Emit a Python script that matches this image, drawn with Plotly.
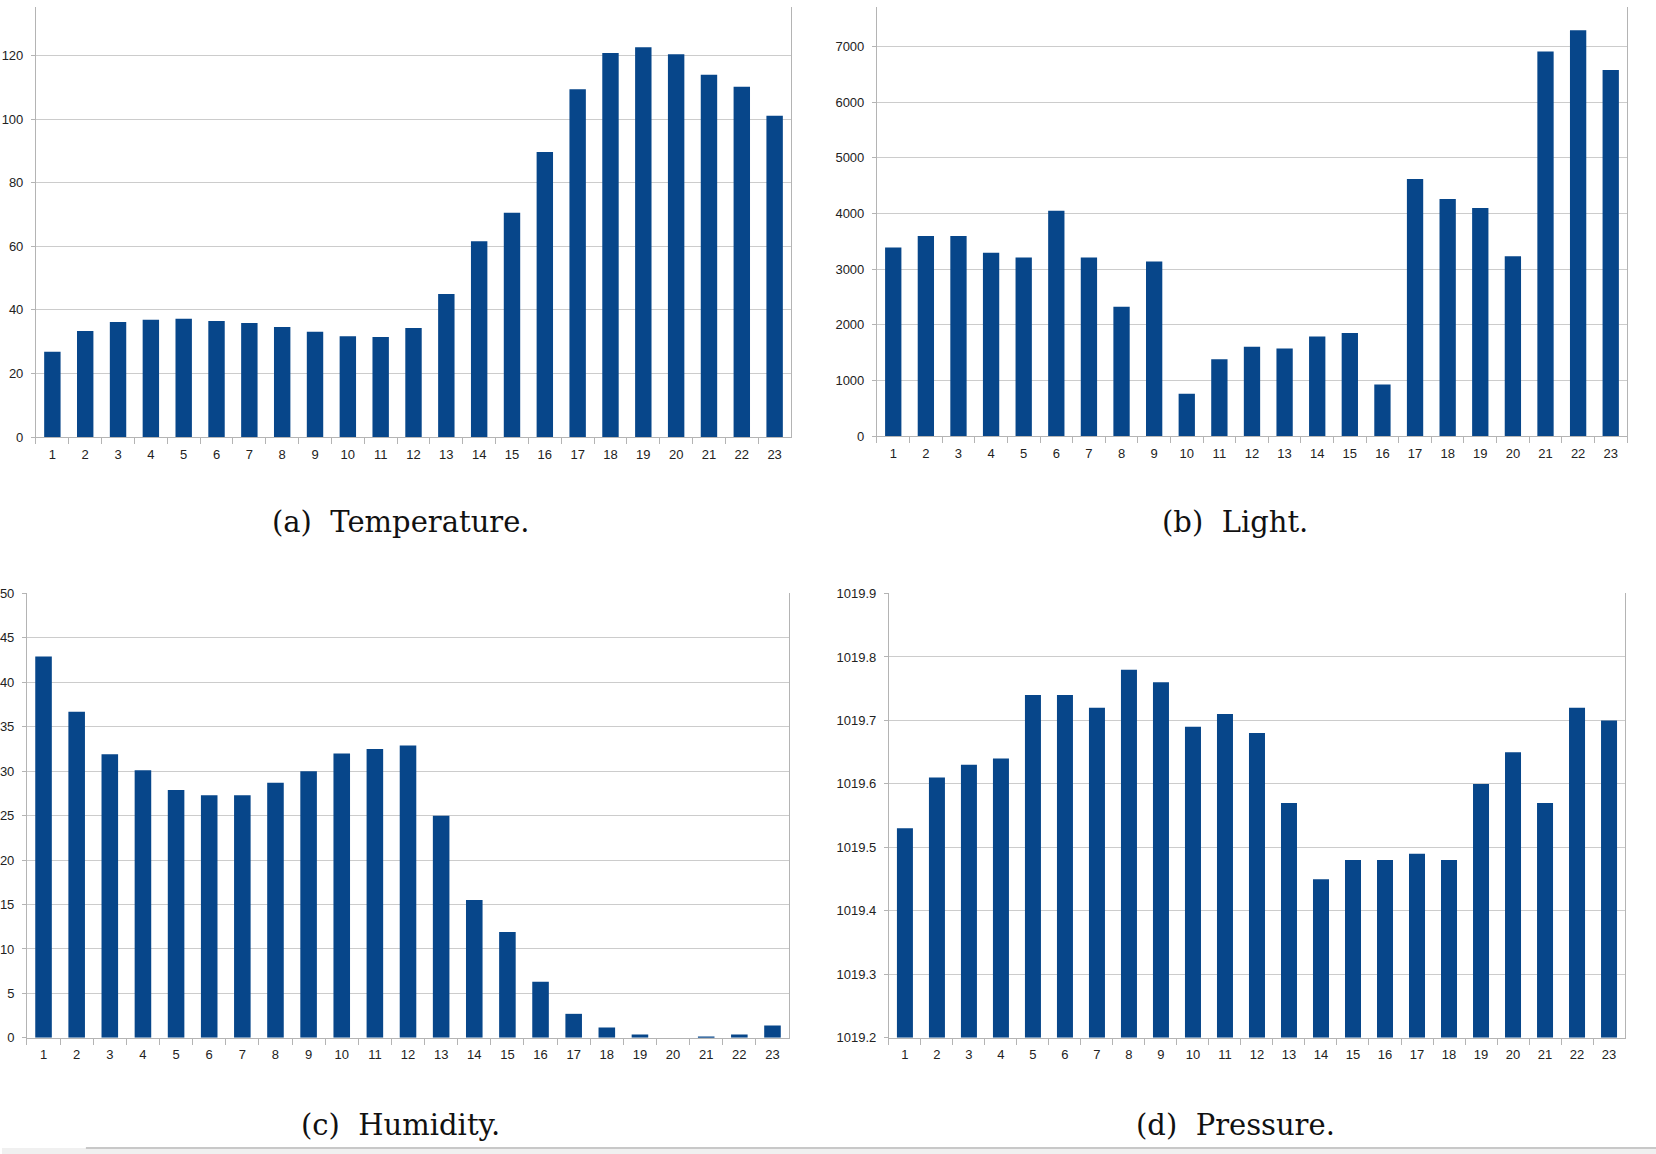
import plotly.graph_objects as go

hours = [str(i) for i in range(1, 24)]

temperature = [26.8, 33.4, 36.2, 36.9, 37.2, 36.5, 35.9, 34.6, 33.1, 31.7, 31.5, 34.3,
               45.0, 61.6, 70.6, 89.7, 109.4, 120.8, 122.6, 120.4, 114.0, 110.2, 101.1]
light = [3390, 3595, 3595, 3295, 3210, 4050, 3210, 2325, 3135, 760, 1380, 1605,
         1575, 1790, 1850, 925, 4620, 4260, 4100, 3230, 6910, 7290, 6580]
humidity = [42.9, 36.7, 31.9, 30.1, 27.9, 27.3, 27.3, 28.7, 30.0, 32.0, 32.5, 32.9,
            25.0, 15.5, 11.9, 6.3, 2.7, 1.15, 0.38, 0.0, 0.15, 0.38, 1.39]
pressure = [1019.53, 1019.61, 1019.63, 1019.64, 1019.74, 1019.74, 1019.72, 1019.78,
            1019.76, 1019.69, 1019.71, 1019.68, 1019.57, 1019.45, 1019.48, 1019.48,
            1019.49, 1019.48, 1019.60, 1019.65, 1019.57, 1019.72, 1019.70]

captions = ["(a)  Temperature.", "(b)  Light.", "(c)  Humidity.", "(d)  Pressure."]

W, H = 1656, 1162
BAR = "#07468a"
TICKFONT = dict(family="Liberation Sans, Arial, sans-serif", size=13, color="#222222")

# target screen positions are mapped to page pixels (the photo is offset/squeezed vertically)
def page_y(sy):
    return max(0.0, (sy - 8.0) / 0.9863)

def px_x(a, b):
    return [a / W, b / W]

def px_y(top, bottom):
    return [1 - page_y(bottom) / H, 1 - page_y(top) / H]

panels = [
    dict(y=temperature, xd=px_x(34, 790), yd=px_y(8, 437.7), rng=[0, 135.3], dt=20, fmt=None),
    dict(y=light, xd=px_x(876, 1627), yd=px_y(8, 436.7), rng=[0, 7710], dt=1000, fmt=None),
    dict(y=humidity, xd=px_x(25, 788), yd=px_y(594, 1038), rng=[0, 50], dt=5, fmt=None),
    dict(y=pressure, xd=px_x(888, 1625), yd=px_y(594, 1038), rng=[1019.2, 1019.9], dt=0.1, fmt=".1f"),
]

fig = go.Figure()
layout = dict(width=W, height=H, margin=dict(l=0, r=0, t=0, b=0),
              paper_bgcolor="white", plot_bgcolor="white", showlegend=False,
              bargap=0.5)

for i, p in enumerate(panels, start=1):
    xa = "x" if i == 1 else f"x{i}"
    ya = "y" if i == 1 else f"y{i}"
    base = None
    yvals = p["y"]
    if i == 4:
        base = p["rng"][0]
        yvals = [v - base for v in p["y"]]
    fig.add_trace(go.Bar(x=hours, y=yvals, base=base, xaxis=xa, yaxis=ya,
                         marker=dict(color=BAR, line=dict(width=0))))
    xk = "xaxis" if i == 1 else f"xaxis{i}"
    yk = "yaxis" if i == 1 else f"yaxis{i}"
    layout[xk] = dict(domain=p["xd"], anchor=ya, type="category",
                      showgrid=False, showline=True, linecolor="#b4b4b4", linewidth=1,
                      ticks="outside", tickson="boundaries", ticklen=6,
                      tickcolor="#b4b4b4", tickfont=TICKFONT, ticklabelstandoff=5,
                      fixedrange=True)
    layout[yk] = dict(domain=p["yd"], anchor=xa, range=p["rng"], dtick=p["dt"],
                      tick0=p["rng"][0],
                      showgrid=True, gridcolor="#cccccc", gridwidth=1,
                      showline=True, linecolor="#b4b4b4", linewidth=1, mirror=True,
                      ticks="outside", ticklen=4, tickcolor="#b4b4b4",
                      tickfont=TICKFONT, zeroline=False, ticklabelstandoff=5,
                      tickformat=p["fmt"], fixedrange=True)

fig.update_layout(**layout)

cap_pos = [(399, 523), (1234, 523), (399, 1125), (1235, 1125)]
for text, (cx, cy) in zip(captions, cap_pos):
    fig.add_annotation(text=text, xref="paper", yref="paper", x=cx / W, y=1 - page_y(cy) / H,
                       showarrow=False, xanchor="center", yanchor="middle",
                       font=dict(family="DejaVu Serif, Liberation Serif, serif",
                                 size=29, color="#111111"))

# window chrome band at the bottom
band_top = page_y(1148)
fig.add_shape(type="rect", xref="paper", yref="paper", x0=0, x1=1,
              y0=0, y1=1 - band_top / H, fillcolor="#f0f0f0", line=dict(width=0), layer="above")
fig.add_shape(type="line", xref="paper", yref="paper", x0=84 / W, x1=1,
              y0=1 - band_top / H, y1=1 - band_top / H,
              line=dict(color="#c8c8c8", width=2), layer="above")

post = (
    "document.documentElement.style.margin='0';"
    "document.documentElement.style.overflow='hidden';"
    "document.body.style.margin='0';"
    "document.body.style.overflow='hidden';"
    "var d=document.getElementById('{plot_id}');"
    "d.style.position='fixed';d.style.top='0px';d.style.left='0px';"
)

fig.write_html("out.html", post_script=post, config={"displayModeBar": False})
